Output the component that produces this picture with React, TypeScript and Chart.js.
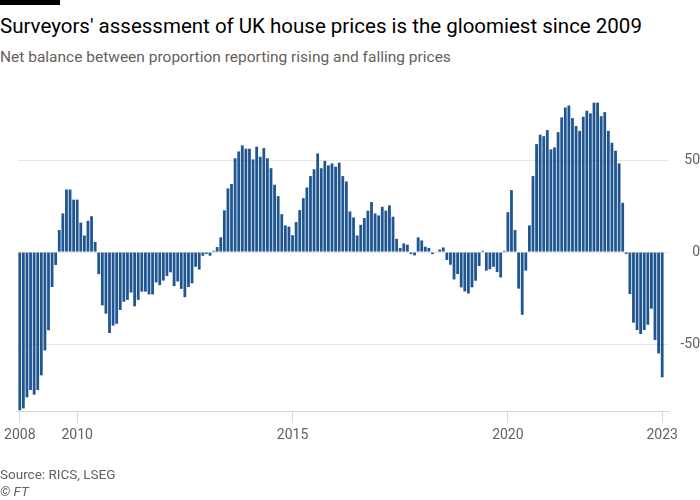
import { useEffect, useRef } from 'react'
import { Chart, registerables } from 'chart.js'

Chart.register(...registerables)

// RICS house price balance (% net balance), monthly from Sep 2008
const START_YEAR = 2008
const START_MONTH = 9

const balance2008 = [-86, -85, -79, -75]
const balance2009 = [-77.5, -75, -67, -53.5, -42.5, -19, -7, 12, 21, 34, 34, 28.5]
const balance2010 = [28.5, 16, 9, 17, 19.5, 5.5, -12, -29, -33.5, -44, -40, -39]
const balance2011 = [-31.5, -27, -26, -22, -29.5, -26, -21.5, -21.5, -23, -23, -16.5, -18]
const balance2012 = [-15.5, -13, -11, -18.5, -16, -20, -24.5, -19, -17, -8, -9.5, -2]
const balance2013 = [-1, -2, 0.7, 2.7, 8, 22.7, 34.6, 37, 51, 54.7, 58, 56.2]
const balance2014 = [56.2, 50.4, 57.3, 51.8, 56.5, 51, 45.6, 36.6, 30.4, 20.6, 14.5, 13.8]
const balance2015 = [9.2, 16.3, 22.8, 29.3, 35.1, 41.3, 45, 53.6, 45.6, 49.6, 47.1, 48.2]
const balance2016 = [46.4, 48.6, 41.3, 38.4, 22.1, 18.8, 9, 14.8, 18.5, 22.5, 27.2, 21]
const balance2017 = [19.9, 24.6, 22.5, 25.4, 19.2, 7.2, 2.2, 4.7, 4, -1.1, -1.8, 8]
const balance2018 = [6.3, 2.9, 2.2, -1.1, 0, 1.4, 2.5, -4.3, -6.9, -14.9, -12, -19.2]
const balance2019 = [-21.4, -22.5, -19.2, -15.6, -7.6, 0.7, -10.1, -9.4, -8, -10.9, -13.8, 0.7]
const balance2020 = [21.7, 33.7, 12, -19.9, -34.1, -10.1, 14.5, 41.3, 58.7, 63.8, 63, 66.3]
const balance2021 = [55.8, 56.9, 65.2, 73.2, 78.6, 79.7, 72.8, 68.5, 65.9, 73.6, 76.8, 75.4]
const balance2022 = [81.2, 81.2, 73.9, 76.1, 65.9, 59.4, 55.1, 48.2, 26.8, -1, -22.8, -38.4]
const balance2023 = [-42.4, -44.6, -42.4, -39.5, -30.8, -47.8, -55.1, -68.1]

const yearly = [
  balance2008, balance2009, balance2010, balance2011, balance2012, balance2013,
  balance2014, balance2015, balance2016, balance2017, balance2018, balance2019,
  balance2020, balance2021, balance2022, balance2023,
]

const tickLabels = ['2008', '2010', '2015', '2020', '2023']
const yTicks = [-50, 0, 50]

// month keys like "2010-01" for each bar
const months: string[] = []
const values: number[] = []
yearly.forEach((arr, y) => {
  arr.forEach((v, k) => {
    const m = (y === 0 ? START_MONTH : 1) + k
    months.push(`${START_YEAR + y}-${String(m).padStart(2, '0')}`)
    values.push(v)
  })
})

// first and last bar carry their year, the rest sit on January
const tickIndexes = tickLabels.map((yr, k) => {
  if (k === 0) return 0
  if (k === tickLabels.length - 1) return months.length - 1
  return months.indexOf(`${yr}-01`)
})

const grey = '#66605c'

function HousePriceChart() {
  const canvasRef = useRef<HTMLCanvasElement>(null)
  const chartRef = useRef<Chart | null>(null)

  useEffect(() => {
    if (!canvasRef.current) return
    chartRef.current?.destroy()

    chartRef.current = new Chart(canvasRef.current, {
      type: 'bar',
      data: {
        datasets: [
          {
            data: values.map((v, i) => ({ x: i, y: v })),
            backgroundColor: '#1f5692',
            borderWidth: 0,
            barPercentage: 0.78,
            categoryPercentage: 1,
          },
        ],
      },
      options: {
        animation: false,
        responsive: true,
        maintainAspectRatio: false,
        layout: { padding: { left: 17.5, top: 90, right: 0, bottom: 0 } },
        plugins: {
          legend: { display: false },
          tooltip: { enabled: false },
        },
        scales: {
          x: {
            type: 'linear',
            min: -0.5,
            max: months.length + 0.9,
            offset: false,
            afterBuildTicks: (s: any) => {
              s.ticks = tickIndexes.map((v) => ({ value: v }))
            },
            afterFit: (s: any) => {
              s.height = 89
            },
            grid: {
              offset: false,
              drawOnChartArea: false,
              drawTicks: true,
              tickLength: 12,
              color: '#dcd7d2',
            },
            border: { display: true, color: '#dcd7d2' },
            ticks: {
              autoSkip: false,
              maxRotation: 0,
              padding: 4,
              color: grey,
              font: { family: 'Roboto', size: 14 },
              callback: (_v: any, i: number) => tickLabels[i],
            },
          },
          y: {
            position: 'right',
            min: -86.4,
            max: 88.1,
            afterBuildTicks: (s: any) => {
              s.ticks = yTicks.map((v) => ({ value: v }))
            },
            afterFit: (s: any) => {
              s.width = 31
            },
            grid: { color: '#e9e5e0', drawTicks: false },
            border: { display: false },
            ticks: {
              crossAlign: 'far',
              padding: 5,
              color: grey,
              font: { family: 'Roboto', size: 14 },
              callback: (v: any) => String(v),
            },
          },
        },
      },
    })

    return () => {
      chartRef.current?.destroy()
      chartRef.current = null
    }
  }, [])

  return <canvas ref={canvasRef} />
}

export default function App() {
  return (
    <div
      style={{
        position: 'absolute',
        left: 0,
        top: 0,
        width: 700,
        height: 500,
        background: '#fff',
        overflow: 'hidden',
        fontFamily: 'Roboto, sans-serif',
      }}
    >
      <div style={{ position: 'absolute', left: 0, top: 0, width: 60, height: 5, background: '#000' }} />
      <div style={{ position: 'absolute', left: 0, top: 13, fontSize: 20.5, lineHeight: '26px', color: '#000', whiteSpace: 'nowrap' }}>
        Surveyors' assessment of UK house prices is the gloomiest since 2009
      </div>
      <div style={{ position: 'absolute', left: 0, top: 47, fontSize: 15.5, lineHeight: '20px', color: grey, whiteSpace: 'nowrap' }}>
        Net balance between proportion reporting rising and falling prices
      </div>
      <div style={{ position: 'absolute', left: 0, top: 0, width: 700, height: 500 }}>
        <HousePriceChart />
      </div>
      <div style={{ position: 'absolute', left: 0, top: 465, fontSize: 13.5, lineHeight: '18px', color: grey, whiteSpace: 'nowrap' }}>
        Source: RICS, LSEG
      </div>
      <div style={{ position: 'absolute', left: 0, top: 482, fontSize: 13.5, lineHeight: '18px', color: grey, fontStyle: 'italic', whiteSpace: 'nowrap' }}>
        © FT
      </div>
    </div>
  )
}
